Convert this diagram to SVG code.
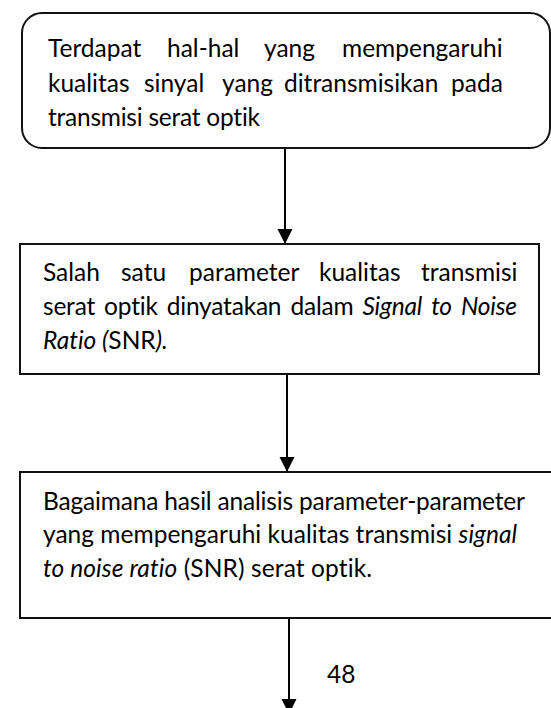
<svg xmlns="http://www.w3.org/2000/svg" width="551" height="708" viewBox="0 0 551 708">
<style>
text{font-family:Lato,"Open Sans","Liberation Sans",sans-serif;font-size:24.5px;fill:#000;font-variant-ligatures:none;font-feature-settings:"liga" 0,"clig" 0}
.i{font-style:italic}
.box{fill:#fff;stroke:#111;stroke-width:2}
.con{stroke:#000;stroke-width:2;fill:none;marker-end:url(#ah)}
</style>
<defs>
<marker id="ah" markerUnits="userSpaceOnUse" markerWidth="16" markerHeight="16" refX="15" refY="7.5" orient="auto">
<path d="M0,0 L15,7.5 L0,15 z" fill="#000"/>
</marker>
</defs>
<rect width="551" height="708" fill="#fff"/>
<g id="connectors">
<line class="con" x1="285" y1="148" x2="285" y2="244"/>
<line class="con" x1="287" y1="374" x2="287" y2="472"/>
<line class="con" x1="289" y1="618" x2="289" y2="714"/>
</g>
<g id="node1">
<rect class="box" x="22" y="13" width="528" height="135" rx="20" ry="20"/>
<text y="57"><tspan x="48">Terdapat</tspan> <tspan x="167">hal-hal</tspan> <tspan x="264">yang</tspan> <tspan x="342">mempengaruhi</tspan></text>
<text y="92"><tspan x="48">kualitas</tspan> <tspan x="144">sinyal</tspan> <tspan x="222">yang</tspan> <tspan x="284">ditransmisikan</tspan> <tspan x="451">pada</tspan></text>
<text x="48" y="126" textLength="212" lengthAdjust="spacing"><tspan>transmisi</tspan> <tspan>serat</tspan> <tspan>optik</tspan></text>
</g>
<g id="node2">
<rect class="box" x="20" y="244" width="519" height="130"/>
<text y="281"><tspan x="43">Salah</tspan> <tspan x="121">satu</tspan> <tspan x="189">parameter</tspan> <tspan x="319">kualitas</tspan> <tspan x="421">transmisi</tspan></text>
<text x="43" y="315" style="word-spacing:3px" textLength="474" lengthAdjust="spacing"><tspan>serat</tspan> <tspan>optik</tspan> <tspan>dinyatakan</tspan> <tspan>dalam</tspan> <tspan class="i">Signal</tspan> <tspan class="i">to</tspan> <tspan class="i">Noise</tspan></text>
<text x="43" y="349"><tspan class="i">Ratio (</tspan>SNR<tspan class="i">).</tspan></text>
</g>
<g id="node3">
<rect class="box" x="20" y="472" width="535" height="146"/>
<text x="43" y="510" textLength="482" lengthAdjust="spacing"><tspan>Bagaimana</tspan> <tspan>hasil</tspan> <tspan>analisis</tspan> <tspan>parameter-parameter</tspan></text>
<text x="43" y="543" textLength="474" lengthAdjust="spacing"><tspan>yang</tspan> <tspan>mempengaruhi</tspan> <tspan>kualitas</tspan> <tspan>transmisi</tspan> <tspan class="i">signal</tspan></text>
<text x="43" y="577" textLength="329" lengthAdjust="spacing"><tspan class="i">to noise ratio</tspan> <tspan>(SNR)</tspan> <tspan>serat</tspan> <tspan>optik.</tspan></text>
</g>
<text x="327" y="683">48</text>
</svg>
